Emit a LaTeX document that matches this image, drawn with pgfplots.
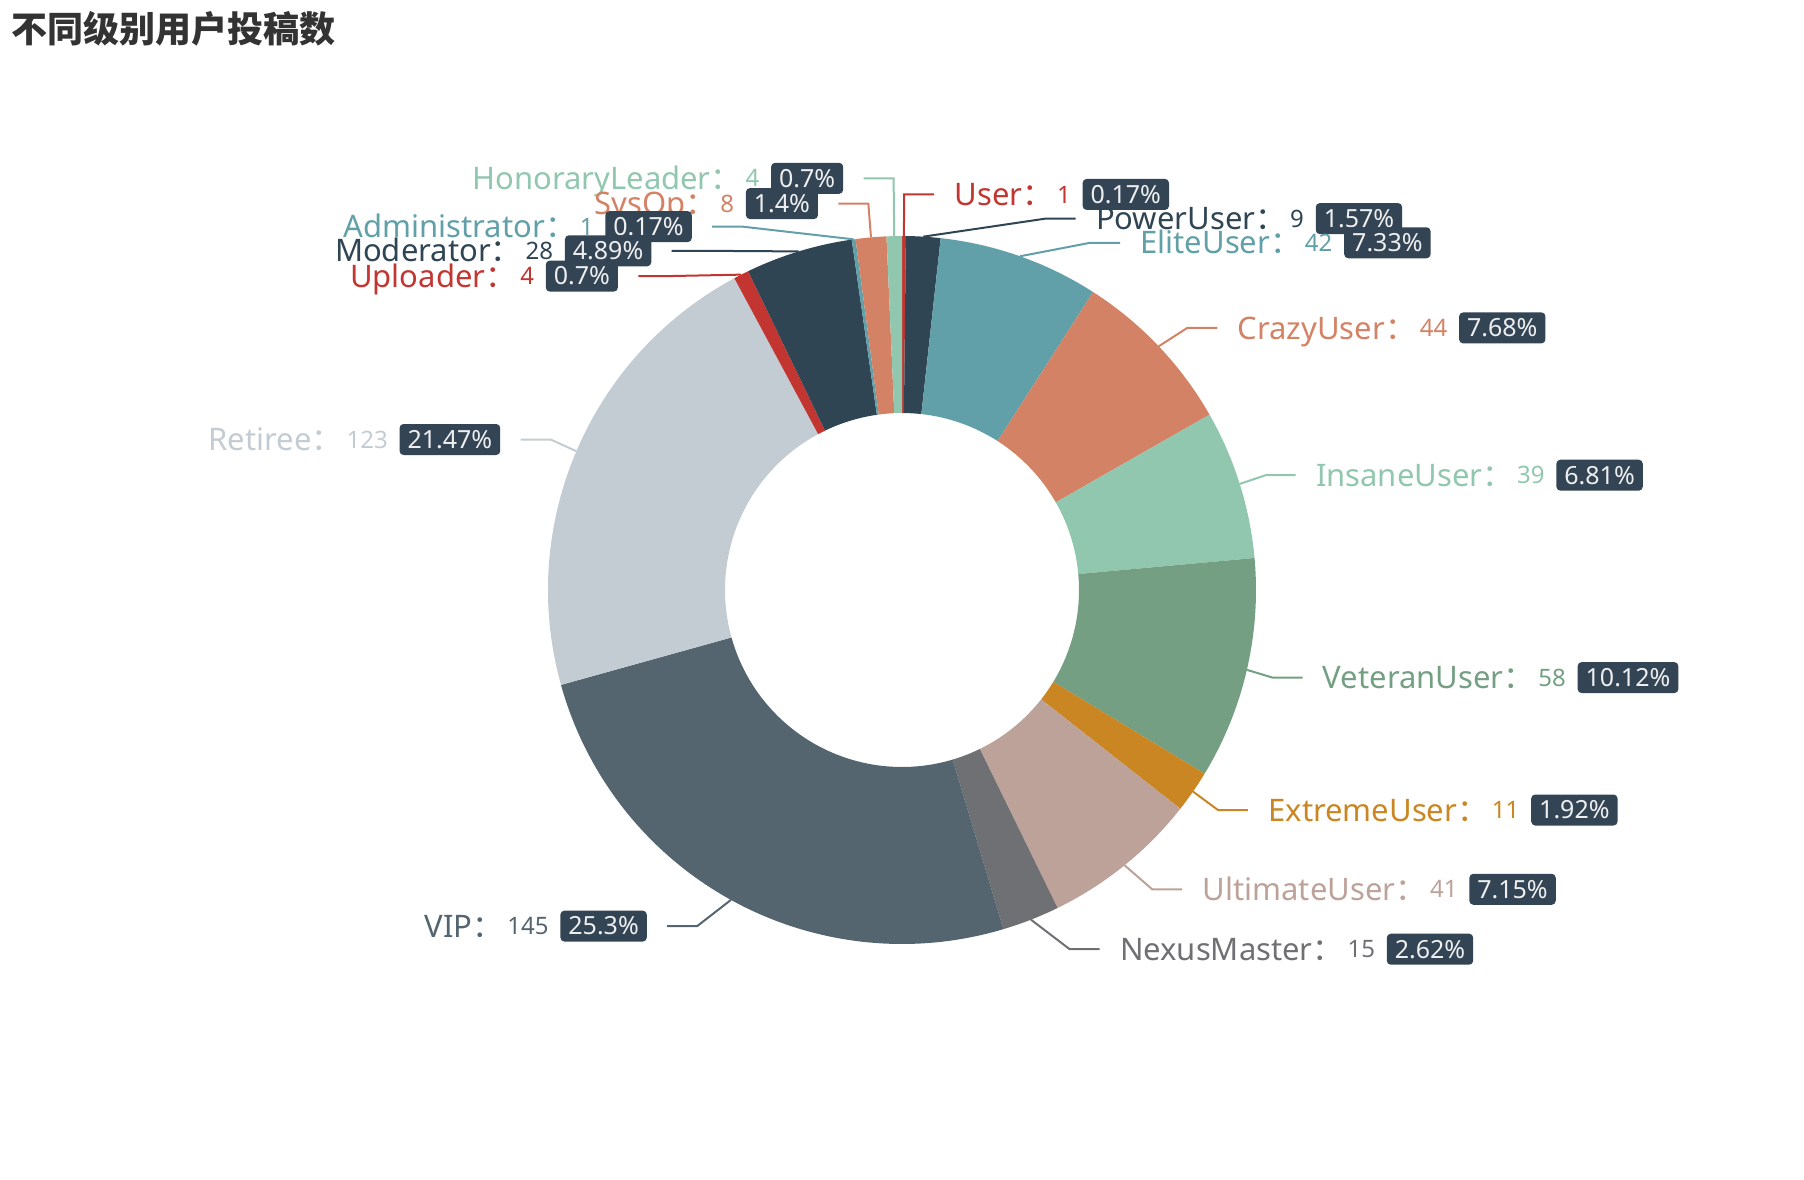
\documentclass[border=0pt]{standalone}
\usepackage{pgfplots}
\pgfplotsset{compat=1.18}
\usepackage{pgfplotstable}
\usepackage{fontspec}
\setmainfont{Noto Sans}
\newfontfamily\cjk{Noto Sans CJK SC}

\definecolor{c0}{HTML}{C23531}
\definecolor{c1}{HTML}{2F4554}
\definecolor{c2}{HTML}{61A0A8}
\definecolor{c3}{HTML}{D48265}
\definecolor{c4}{HTML}{91C7AE}
\definecolor{c5}{HTML}{749F83}
\definecolor{c6}{HTML}{CA8622}
\definecolor{c7}{HTML}{BDA29A}
\definecolor{c8}{HTML}{6E7074}
\definecolor{c9}{HTML}{546570}
\definecolor{c10}{HTML}{C4CCD3}
\definecolor{boxc}{HTML}{334455}
\definecolor{boxt}{HTML}{EEEEEE}
\definecolor{titlec}{HTML}{333333}

\newcommand\namefont{\fontsize{15.5bp}{15.5bp}\selectfont}
\newcommand\valfont{\fontsize{12bp}{12bp}\selectfont}
\newcommand\pctfont{\fontsize{12.5bp}{12.5bp}\selectfont}
\newcommand\cjkcolon{{\cjk ：}}

% slices in clockwise order from 12 o'clock; ly = label centre y (pixels from top)
\pgfplotstableread[col sep=comma]{
name,value,pct,col,ly
User,1,0.17,c0,194.4
PowerUser,9,1.57,c1,218.6
EliteUser,42,7.33,c2,242.8
CrazyUser,44,7.68,c3,327.9
InsaneUser,39,6.81,c4,475.2
VeteranUser,58,10.12,c5,677.6
ExtremeUser,11,1.92,c6,810
UltimateUser,41,7.15,c7,889.3
NexusMaster,15,2.62,c8,949.2
VIP,145,25.3,c9,926.1
Retiree,123,21.47,c10,439.5
Uploader,4,0.7,c0,276.1
Moderator,28,4.89,c1,250.8
Administrator,1,0.17,c2,226.6
SysOp,8,1.4,c3,203.6
HonoraryLeader,4,0.7,c4,178.3
}\piedata

\tikzset{pbox/.style={fill=boxc, text=boxt, rounded corners=2bp, inner xsep=4bp, inner ysep=0pt, minimum height=15.5bp, font=\pctfont}}

\newcommand\rlab[1]{%
  \draw[color=\csname COL#1\endcsname, line width=1bp] (axis cs:\csname PX#1\endcsname,\csname PY#1\endcsname) -- (axis cs:\csname CX#1\endcsname,\csname LY#1\endcsname) -- (axis cs:\csname EX#1\endcsname,\csname LY#1\endcsname);
  \coordinate (ly#1) at (axis cs:0,\csname LY#1\endcsname);
  \coordinate (vb#1) at (axis cs:0,\csname VBY#1\endcsname);
  \node[anchor=base west, inner sep=0pt, text=\csname COL#1\endcsname, font=\namefont] (nm#1) at (axis cs:\csname TX#1\endcsname,\csname NBY#1\endcsname) {\csname NAME#1\endcsname\cjkcolon};
  \node[anchor=base west, inner sep=0pt, xshift=1.5bp, text=\csname COL#1\endcsname, font=\valfont] (vl#1) at (nm#1.base east |- vb#1) {\csname VAL#1\endcsname};
  \node[anchor=west, xshift=5.5bp, pbox] at (vl#1.east |- ly#1) {\csname PCT#1\endcsname\%};
}
\newcommand\llab[1]{%
  \draw[color=\csname COL#1\endcsname, line width=1bp] (axis cs:\csname PX#1\endcsname,\csname PY#1\endcsname) -- (axis cs:\csname CX#1\endcsname,\csname LY#1\endcsname) -- (axis cs:\csname EX#1\endcsname,\csname LY#1\endcsname);
  \coordinate (ly#1) at (axis cs:0,\csname LY#1\endcsname);
  \coordinate (vb#1) at (axis cs:0,\csname VBY#1\endcsname);
  \coordinate (nb#1) at (axis cs:0,\csname NBY#1\endcsname);
  \node[anchor=east, pbox] (bx#1) at (axis cs:\csname TX#1\endcsname,\csname LY#1\endcsname) {\csname PCT#1\endcsname\%};
  \node[anchor=base east, inner sep=0pt, xshift=-5.5bp, text=\csname COL#1\endcsname, font=\valfont] (vl#1) at (bx#1.west |- vb#1) {\csname VAL#1\endcsname};
  \node[anchor=base east, inner sep=0pt, xshift=-1.5bp, text=\csname COL#1\endcsname, font=\namefont] at (vl#1.west |- nb#1) {\csname NAME#1\endcsname\cjkcolon};
}

% ---- geometry (pixel units of the 1804x1180 picture), computed in the preamble ----
\def\pcx{902}\def\pcy{590}\def\pro{354}\def\pri{177}
\pgfplotstablegetrowsof{\piedata}\pgfmathtruncatemacro\nlast{\pgfplotsretval-1}
\def\ptot{0}
\pgfplotsforeachungrouped \i in {0,...,\nlast}{%
  \pgfplotstablegetelem{\i}{value}\of\piedata
  \pgfmathsetmacro\ptot{\ptot+\pgfplotsretval}}
\def\pcum{0}
\pgfplotsforeachungrouped \i in {0,...,\nlast}{%
  \pgfplotstablegetelem{\i}{value}\of\piedata \edef\pv{\pgfplotsretval}%
  \pgfplotstablegetelem{\i}{name}\of\piedata \expandafter\xdef\csname NAME\i\endcsname{\pgfplotsretval}%
  \pgfplotstablegetelem{\i}{pct}\of\piedata \expandafter\xdef\csname PCT\i\endcsname{\pgfplotsretval}%
  \pgfplotstablegetelem{\i}{col}\of\piedata \expandafter\xdef\csname COL\i\endcsname{\pgfplotsretval}%
  \pgfplotstablegetelem{\i}{ly}\of\piedata \edef\ply{\pgfplotsretval}%
  \expandafter\xdef\csname VAL\i\endcsname{\pv}%
  \pgfmathsetmacro\psa{90-\pcum/\ptot*360}%
  \pgfmathsetmacro\pcum{\pcum+\pv}%
  \pgfmathsetmacro\psb{90-\pcum/\ptot*360}%
  \pgfmathsetmacro\pmd{(\psa+\psb)/2}%
  \pgfmathtruncatemacro\pdir{cos(\pmd)<0 ? -1 : 1}%
  \pgfmathsetmacro\pdy{abs(\ply-\pcy)}%
  \pgfmathtruncatemacro\padj{\pdy<384}%
  \ifnum\padj=1 %
    \pgfmathsetmacro\pex{\pcx+\pdir*10*sqrt(max(1681-(\pdy/10)^2,0))}%
  \else
    \pgfmathsetmacro\pex{\pcx+384*cos(\pmd)+\pdir*30}%
  \fi
  \pgfmathsetmacro\pcxx{\pex-\pdir*30}%
  \pgfmathsetmacro\ptx{\pex+\pdir*20}%
  \pgfmathsetmacro\ppx{\pcx+\pro*cos(\pmd)}%
  \pgfmathsetmacro\ppy{\pcy-\pro*sin(\pmd)}%
  \pgfmathsetmacro\poxa{\pcx+\pro*cos(\psa)}%
  \pgfmathsetmacro\poya{\pcy-\pro*sin(\psa)}%
  \pgfmathsetmacro\pixb{\pcx+\pri*cos(\psb)}%
  \pgfmathsetmacro\piyb{\pcy-\pri*sin(\psb)}%
  \pgfmathsetmacro\pnby{\ply+11.1}%
  \pgfmathsetmacro\pvby{\ply+8.6}%
  \expandafter\xdef\csname SA\i\endcsname{\psa}%
  \expandafter\xdef\csname SB\i\endcsname{\psb}%
  \expandafter\xdef\csname OXA\i\endcsname{\poxa}%
  \expandafter\xdef\csname OYA\i\endcsname{\poya}%
  \expandafter\xdef\csname IXB\i\endcsname{\pixb}%
  \expandafter\xdef\csname IYB\i\endcsname{\piyb}%
  \expandafter\xdef\csname PX\i\endcsname{\ppx}%
  \expandafter\xdef\csname PY\i\endcsname{\ppy}%
  \expandafter\xdef\csname CX\i\endcsname{\pcxx}%
  \expandafter\xdef\csname EX\i\endcsname{\pex}%
  \expandafter\xdef\csname TX\i\endcsname{\ptx}%
  \expandafter\xdef\csname LY\i\endcsname{\ply}%
  \expandafter\xdef\csname NBY\i\endcsname{\pnby}%
  \expandafter\xdef\csname VBY\i\endcsname{\pvby}%
}

\begin{document}
\begin{tikzpicture}
\begin{axis}[name=ax, at={(0,0)}, anchor=south west,
  width=902bp, height=590bp, scale only axis,
  xmin=0, xmax=1804, ymin=0, ymax=1180, y dir=reverse,
  hide axis, clip=false]
\pgfplotsinvokeforeach{0,...,15}{%
  \fill[\csname COL#1\endcsname] (axis cs:\csname OXA#1\endcsname,\csname OYA#1\endcsname)
    arc[start angle=\csname SA#1\endcsname, end angle=\csname SB#1\endcsname, radius=177bp]
    -- (axis cs:\csname IXB#1\endcsname,\csname IYB#1\endcsname)
    arc[start angle=\csname SB#1\endcsname, end angle=\csname SA#1\endcsname, radius=88.5bp] -- cycle;
}
\pgfplotsinvokeforeach{0,...,8}{\rlab{#1}}
\pgfplotsinvokeforeach{15,14,...,9}{\llab{#1}}
\node[anchor=west, inner sep=0pt, text=titlec, font={\cjk\bfseries\fontsize{18bp}{18bp}\selectfont}] at (axis cs:11,29) {不同级别用户投稿数};
\end{axis}
\pgfresetboundingbox
\useasboundingbox (0,0) rectangle (902bp,590bp);
\end{tikzpicture}
\end{document}
